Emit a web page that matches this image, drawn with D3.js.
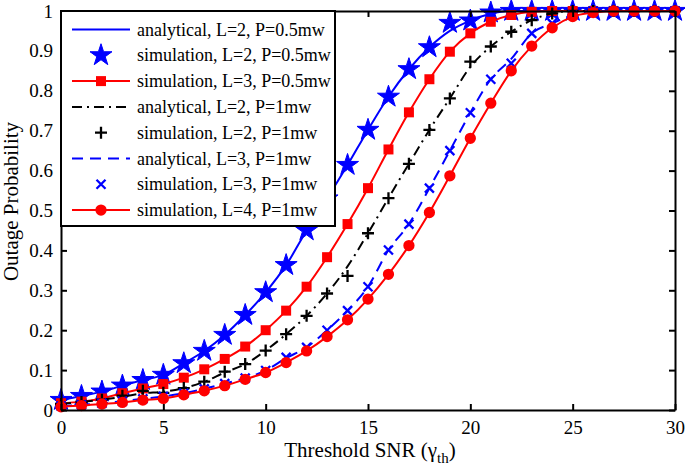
<!DOCTYPE html>
<html>
<head>
<meta charset="utf-8">
<script src="https://cdn.jsdelivr.net/npm/d3@7"></script>
<style>
  body { margin: 0; background: #fff; }
  text { font-family: "Liberation Serif", "Times New Roman", serif; }
</style>
</head>
<body>
<div id="chart"></div>
<script>
// threshold SNR values 0..30
let snr = d3.range(0, 31)

// L=2, P=0.5mw
let simL2P05 = [0.025, 0.035, 0.046, 0.061, 0.075, 0.088, 0.117, 0.148, 0.188, 0.238,
  0.295, 0.363, 0.45, 0.53, 0.614, 0.702, 0.785, 0.854, 0.909, 0.97,
  0.976, 0.996, 1, 1, 1, 1, 1, 1, 1, 1, 1]
let anaL2P05 = [0.025, 0.035, 0.046, 0.061, 0.075, 0.088, 0.117, 0.148, 0.188, 0.238,
  0.295, 0.363, 0.45, 0.53, 0.614, 0.702, 0.785, 0.854, 0.909, 0.95,
  0.976, 0.993, 1, 1, 1, 1, 1, 1, 1, 1, 1]
// L=3, P=0.5mw
let simL3P05 = [0.017, 0.021, 0.029, 0.042, 0.054, 0.065, 0.081, 0.102, 0.128, 0.159,
  0.2, 0.249, 0.309, 0.383, 0.466, 0.556, 0.653, 0.746, 0.829, 0.898,
  0.944, 0.973, 0.99, 0.998, 1, 1, 1, 1, 1, 1, 1]
// L=2, P=1mw
let anaL2P1 = [0.015, 0.02, 0.026, 0.033, 0.042, 0.046, 0.055, 0.071, 0.094, 0.115,
  0.149, 0.19, 0.236, 0.292, 0.36, 0.443, 0.531, 0.617, 0.702, 0.781,
  0.86, 0.911, 0.948, 0.977, 0.994, 1, 1, 1, 1, 1, 1]
let simL2P1 = [0.015, 0.02, 0.026, 0.036, 0.048, 0.043, 0.055, 0.071, 0.096, 0.115,
  0.149, 0.19, 0.236, 0.292, 0.336, 0.443, 0.531, 0.617, 0.702, 0.781,
  0.873, 0.911, 0.948, 0.977, 0.994, 1, 1, 1, 1, 1, 1]
// L=3, P=1mw
let anaL3P1 = [0.01, 0.013, 0.017, 0.022, 0.028, 0.034, 0.042, 0.053, 0.066, 0.08,
  0.099, 0.13, 0.157, 0.2, 0.249, 0.309, 0.401, 0.466, 0.556, 0.65,
  0.745, 0.829, 0.88, 0.944, 0.969, 0.99, 1, 1, 1, 1, 1]
let simL3P1 = [0.01, 0.013, 0.017, 0.022, 0.028, 0.034, 0.042, 0.053, 0.066, 0.08,
  0.099, 0.132, 0.157, 0.2, 0.249, 0.309, 0.401, 0.466, 0.556, 0.65,
  0.745, 0.829, 0.869, 0.944, 0.969, 0.99, 1, 1, 1, 1, 1]
// L=4, P=1mw
let simL4P1 = [0.008, 0.011, 0.015, 0.019, 0.025, 0.029, 0.038, 0.048, 0.061, 0.077,
  0.094, 0.119, 0.148, 0.184, 0.226, 0.278, 0.34, 0.412, 0.495, 0.587,
  0.681, 0.769, 0.85, 0.912, 0.958, 0.986, 0.996, 1, 1, 1, 1]

let xTicks = [0, 5, 10, 15, 20, 25, 30]
let yTicks = [0, 0.1, 0.2, 0.3, 0.4, 0.5, 0.6, 0.7, 0.8, 0.9, 1]

let legendLabels = [
  'analytical, L=2, P=0.5mw',
  'simulation, L=2, P=0.5mw',
  'simulation, L=3, P=0.5mw',
  'analytical, L=2, P=1mw',
  'simulation, L=2, P=1mw',
  'analytical, L=3, P=1mw',
  'simulation, L=3, P=1mw',
  'simulation, L=4, P=1mw'
]

let margin = { top: 11, left: 61, right: 10, bottom: 63 }
let width = 685 - margin.left - margin.right
let height = 473 - margin.top - margin.bottom

let svg = d3.select('#chart')
  .append('svg')
  .attr('width', 685)
  .attr('height', 473)
  .append('g')
  .attr('transform', 'translate(' + margin.left + ',' + margin.top + ')')

let x = d3.scaleLinear().domain([0, 30]).range([0, width])
let y = d3.scaleLinear().domain([0, 1]).range([height, 0])

// styles for each series (same order as legend)
let styles = [
  { data: anaL2P05, color: '#0000ff', line: true, dash: null, marker: null },
  { data: simL2P05, color: '#0000ff', line: false, marker: 'star' },
  { data: simL3P05, color: '#ff0000', line: true, dash: null, marker: 'square' },
  { data: anaL2P1, color: '#000000', line: true, dash: '10,5,2,5', marker: null },
  { data: simL2P1, color: '#000000', line: false, marker: 'plus' },
  { data: anaL3P1, color: '#0000ff', line: true, dash: '11,7', marker: null },
  { data: simL3P1, color: '#0000ff', line: false, marker: 'cross' },
  { data: simL4P1, color: '#ff0000', line: true, dash: null, marker: 'circle' }
]

let symbols = {
  star: d3.symbol().type(d3.symbolStar).size(150),
  square: d3.symbol().type(d3.symbolSquare).size(100),
  circle: d3.symbol().type(d3.symbolCircle).size(100)
}

function drawMarker(g, type, color) {
  if (type === 'plus') {
    g.append('path').attr('d', 'M-6,0H6M0,-6V6')
      .attr('stroke', color).attr('stroke-width', 2.3).attr('fill', 'none')
  } else if (type === 'cross') {
    g.append('path').attr('d', 'M-4.5,-4.5L4.5,4.5M-4.5,4.5L4.5,-4.5')
      .attr('stroke', color).attr('stroke-width', 2.3).attr('fill', 'none')
  } else {
    g.append('path').attr('d', symbols[type]())
      .attr('fill', color)
      .attr('stroke', type === 'star' ? color : 'none')
      .attr('stroke-width', 1)
  }
}

let line = d3.line()
  .x((d, i) => x(snr[i]))
  .y(d => y(d))
  .curve(d3.curveMonotoneX)

let plot = svg.append('g')

styles.forEach(s => {
  if (s.line) {
    plot.append('path')
      .datum(s.data)
      .attr('d', line)
      .attr('fill', 'none')
      .attr('stroke', s.color)
      .attr('stroke-width', 2)
      .attr('stroke-dasharray', s.dash)
  }
  if (s.marker) {
    plot.append('g')
      .selectAll('g')
      .data(s.data)
      .enter().append('g')
      .attr('transform', (d, i) => 'translate(' + x(snr[i]) + ',' + y(d) + ')')
      .each(function() { drawMarker(d3.select(this), s.marker, s.color) })
  }
})

// axes, MATLAB style box with inward ticks
let tickLen = 6
svg.append('g')
  .attr('transform', 'translate(0,' + height + ')')
  .call(d3.axisBottom(x).tickValues(xTicks).tickSizeInner(-tickLen).tickSizeOuter(0).tickPadding(11))
svg.append('g')
  .call(d3.axisTop(x).tickValues(xTicks).tickSizeInner(-tickLen).tickSizeOuter(0).tickFormat(''))
svg.append('g')
  .call(d3.axisLeft(y).tickValues(yTicks).tickSizeInner(-tickLen).tickSizeOuter(0).tickPadding(8)
    .tickFormat(d => d === 0 || d === 1 ? d3.format('d')(d) : d3.format('.1f')(d)))
svg.append('g')
  .attr('transform', 'translate(' + width + ',0)')
  .call(d3.axisRight(y).tickValues(yTicks).tickSizeInner(-tickLen).tickSizeOuter(0).tickFormat(''))

svg.selectAll('.domain').attr('stroke', '#000').attr('stroke-width', 2)
svg.selectAll('.tick line').attr('stroke', '#000').attr('stroke-width', 2)
svg.selectAll('.tick text')
  .attr('fill', '#000')
  .style('font-family', '"Liberation Serif", serif')
  .style('font-size', '19px')

// legend
let legend = svg.append('g')
legend.append('rect')
  .attr('x', 0).attr('y', 0)
  .attr('width', 274).attr('height', 215)
  .attr('fill', '#fff')
  .attr('stroke', '#000')
  .attr('stroke-width', 2)

legendLabels.forEach((lab, i) => {
  let s = styles[i]
  let ly = 18.5 + i * 25.8
  if (s.line) {
    legend.append('line')
      .attr('x1', 11).attr('x2', 69).attr('y1', ly).attr('y2', ly)
      .attr('stroke', s.color).attr('stroke-width', 2)
      .attr('stroke-dasharray', s.dash)
  }
  if (s.marker) {
    let g = legend.append('g').attr('transform', 'translate(40,' + ly + ')')
    drawMarker(g, s.marker, s.color)
  }
  legend.append('text')
    .attr('x', 76).attr('y', ly + 6)
    .style('font-size', '18px')
    .text(lab)
})

// axis titles
let xt = svg.append('text')
  .attr('x', width / 2 + 2)
  .attr('y', height + 47)
  .attr('text-anchor', 'middle')
  .style('font-size', '21px')
xt.append('tspan').text('Threshold SNR (γ')
xt.append('tspan').attr('dy', 6).style('font-size', '15px').text('th')
xt.append('tspan').attr('dy', -6).text(')')

svg.append('text')
  .attr('transform', 'translate(-43,' + (height / 2 - 9) + ') rotate(-90)')
  .attr('text-anchor', 'middle')
  .style('font-size', '21px')
  .text('Outage Probability')
</script>
</body>
</html>
